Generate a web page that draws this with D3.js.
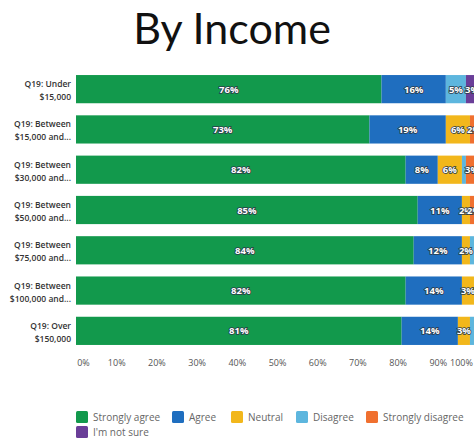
<!DOCTYPE html>
<html>
<head>
<meta charset="utf-8">
<script src="https://cdn.jsdelivr.net/npm/d3@7"></script>
<style>
  html, body { margin: 0; padding: 0; background: #fff; }
  svg { display: block; }
</style>
</head>
<body>
<svg id="chart" width="474" height="439"></svg>
<script>
// Income brackets (two-line labels)
const categories = [
  ["Q19: Under", "$15,000"],
  ["Q19: Between", "$15,000 and..."],
  ["Q19: Between", "$30,000 and..."],
  ["Q19: Between", "$50,000 and..."],
  ["Q19: Between", "$75,000 and..."],
  ["Q19: Between", "$100,000 and..."],
  ["Q19: Over", "$150,000"]
];

const seriesNames = ["Strongly agree", "Agree", "Neutral", "Disagree", "Strongly disagree", "I'm not sure"];
const seriesColors = ["#12994c", "#1f6ebf", "#f2b71b", "#5db6de", "#f0702f", "#6a3e98"];

// Percent of respondents per answer, one value per bracket
const stronglyAgree    = [76, 73, 82, 85, 84, 82, 81];
const agree            = [16, 19, 8, 11, 12, 14, 14];
const neutral          = [0, 6, 6, 2, 2, 3, 3];
const disagree         = [5, 0, 1, 0, 1, 1, 1];
const stronglyDisagree = [0, 2, 3, 2, 1, 0, 1];
const notSure          = [3, 0, 0, 0, 0, 0, 0];

const tickValues = [0, 10, 20, 30, 40, 50, 60, 70, 80, 90, 100];
const tickLabels = ["0%", "10%", "20%", "30%", "40%", "50%", "60%", "70%", "80%", "90%", "100%"];

const allSeries = [stronglyAgree, agree, neutral, disagree, stronglyDisagree, notSure];
const rows = categories.map((c, i) => {
  const r = { idx: i };
  seriesNames.forEach((n, k) => { r[n] = allSeries[k][i]; });
  return r;
});

const svg = d3.select("#chart");
const plot = { left: 76, right: 478, top: 75, bottom: 345 };

const x = d3.scaleLinear().domain([0, 100]).range([plot.left, plot.right]);
const y = d3.scaleBand().domain(d3.range(categories.length))
  .range([plot.top - 6, plot.bottom + 6]).paddingInner(0.3).paddingOuter(0.15);

const stack = d3.stack().keys(seriesNames);
const layers = stack(rows);

// Title
svg.append("text")
  .attr("x", 232).attr("y", 44)
  .attr("text-anchor", "middle")
  .style("font-family", "Lato, 'Open Sans', sans-serif")
  .style("font-size", "43px")
  .style("fill", "#111")
  .text("By Income");

// Stacked bars
const g = svg.append("g");
layers.forEach((layer, k) => {
  g.selectAll(null).data(layer).enter().append("rect")
    .attr("x", d => x(d[0]))
    .attr("y", (d, i) => y(i))
    .attr("width", d => Math.max(0, x(d[1]) - x(d[0])))
    .attr("height", y.bandwidth())
    .attr("fill", seriesColors[k]);
});

// Value labels inside segments
layers.forEach((layer, k) => {
  g.selectAll(null).data(layer.filter(d => (d[1] - d[0]) >= 2)).enter().append("text")
    .attr("x", d => (x(d[0]) + x(d[1])) / 2)
    .attr("y", d => y(d.data.idx) + y.bandwidth() / 2 + 3.5)
    .attr("text-anchor", "middle")
    .style("font-family", "'Open Sans', sans-serif")
    .style("font-size", "9.5px")
    .style("font-weight", "bold")
    .style("fill", "#fff")
    .style("stroke", "#2b3b4a")
    .style("stroke-width", "1.6px")
    .style("paint-order", "stroke")
    .text(d => (d[1] - d[0]) + "%");
});

// Category labels
const yl = svg.append("g");
categories.forEach((c, i) => {
  const t = yl.append("text")
    .attr("x", 71)
    .attr("y", y(i) + y.bandwidth() / 2 - 2)
    .attr("text-anchor", "end")
    .style("font-family", "'Open Sans', sans-serif")
    .style("font-size", "8.5px")
    .style("font-weight", "600")
    .style("fill", "#333");
  t.append("tspan").attr("x", 71).text(c[0]);
  t.append("tspan").attr("x", 71).attr("dy", 13).text(c[1]);
});

// X axis labels
const xAxis = d3.axisBottom(x).tickValues(tickValues).tickSize(0)
  .tickFormat((d, i) => tickLabels[i]);
const ax = svg.append("g").attr("transform", `translate(0, ${plot.bottom + 12})`).call(xAxis);
ax.select(".domain").remove();
ax.selectAll("text")
  .style("font-family", "'Open Sans', sans-serif")
  .style("font-size", "9px")
  .style("fill", "#555")
  .attr("dx", (d, i) => i === 0 ? 7 : (i === tickValues.length - 1 ? -17 : 0));

// Legend
const legendPos = [[76, 411], [172, 411], [231, 411], [296, 411], [366, 411], [76, 426]];
const lg = svg.append("g");
seriesNames.forEach((n, k) => {
  const [lx, ly] = legendPos[k];
  lg.append("rect").attr("x", lx).attr("y", ly).attr("width", 12).attr("height", 12)
    .attr("rx", 1.5).attr("fill", seriesColors[k]);
  lg.append("text").attr("x", lx + 17).attr("y", ly + 10)
    .style("font-family", "'Open Sans', sans-serif")
    .style("font-size", "10px")
    .style("fill", "#666")
    .text(n);
});
</script>
</body>
</html>
